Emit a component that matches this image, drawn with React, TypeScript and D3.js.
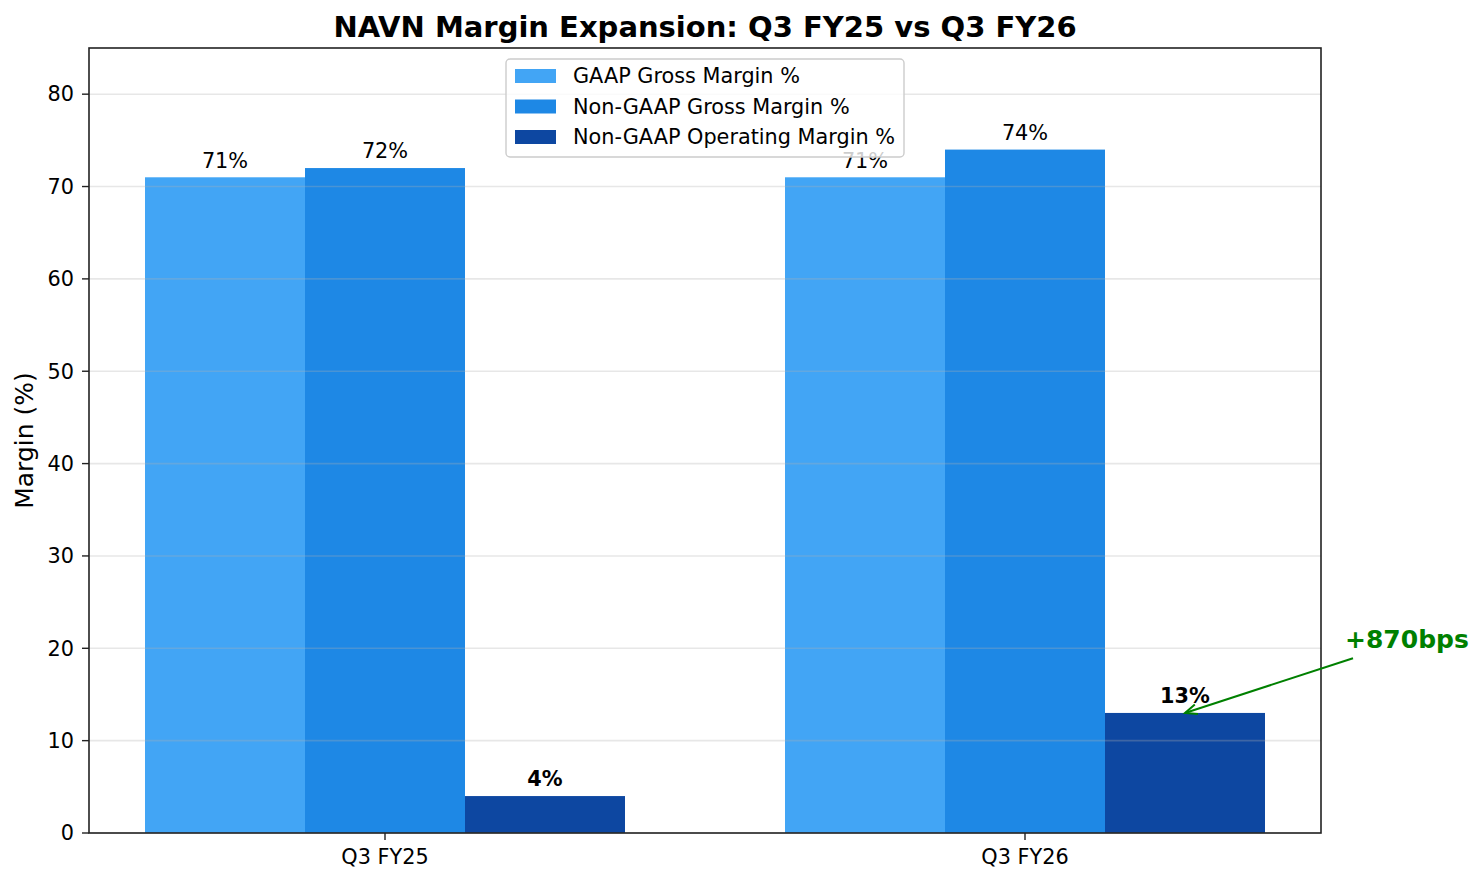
import { useMemo } from 'react';
import * as d3 from 'd3';

const quarters = ['Q3 FY25', 'Q3 FY26'];
const seriesNames = ['GAAP Gross Margin %', 'Non-GAAP Gross Margin %', 'Non-GAAP Operating Margin %'];
const seriesColors = ['#42A5F5', '#1E88E5', '#0D47A1'];
const gaapGross = [71, 71];
const nonGaapGross = [72, 74];
const nonGaapOperating = [4, 13];
const labelBold = [false, false, true];
const yTicks = [0, 10, 20, 30, 40, 50, 60, 70, 80];

const W = 1483;
const H = 883;
const FONT = '"DejaVu Sans", sans-serif';

export default function App() {
  const series = [gaapGross, nonGaapGross, nonGaapOperating];
  const margin = { top: 48, right: 162, bottom: 50, left: 89 };
  const innerWidth = W - margin.left - margin.right;
  const innerHeight = H - margin.top - margin.bottom;
  const barW = 0.25;

  const x = useMemo(() => d3.scaleLinear().domain([-0.4625, 1.4625]).range([0, innerWidth]), [innerWidth]);
  const y = useMemo(() => d3.scaleLinear().domain([0, 85]).range([innerHeight, 0]), [innerHeight]);

  // annotation
  const tip = { x: x(1 + barW), y: y(nonGaapOperating[1]) };
  const textPos = { x: x(1.5), y: y(20) };
  const start = { x: textPos.x + 8, y: textPos.y + 10 };
  const ang = Math.atan2(start.y - tip.y, start.x - tip.x);
  const head = 13;
  const spread = 0.4;
  const h1 = { x: tip.x + head * Math.cos(ang + spread), y: tip.y + head * Math.sin(ang + spread) };
  const h2 = { x: tip.x + head * Math.cos(ang - spread), y: tip.y + head * Math.sin(ang - spread) };

  const legend = { x: 506 - margin.left, y: 59 - margin.top, w: 398, h: 98 };

  return (
    <div style={{ position: 'absolute', left: 0, top: 0 }}>
      <svg width={W} height={H} style={{ display: 'block', background: '#fff' }} fontFamily={FONT}>
        <text x={margin.left + innerWidth / 2} y={37} textAnchor="middle" fontSize={29} fontWeight="bold" fill="#000">
          NAVN Margin Expansion: Q3 FY25 vs Q3 FY26
        </text>
        <text
          transform={`translate(33,${margin.top + innerHeight / 2}) rotate(-90)`}
          textAnchor="middle"
          fontSize={25}
          fill="#000"
        >
          Margin (%)
        </text>
        <g transform={`translate(${margin.left},${margin.top})`}>
          {series.map((vals, si) =>
            vals.map((v, qi) => {
              const cx = x(qi + (si - 1) * barW);
              const x0 = x(qi + (si - 1) * barW - barW / 2);
              const x1 = x(qi + (si - 1) * barW + barW / 2);
              return (
                <g key={`${si}-${qi}`}>
                  <rect x={x0} y={y(v)} width={x1 - x0} height={innerHeight - y(v)} fill={seriesColors[si]} />
                  <text
                    x={cx}
                    y={y(v + 0.5) - 5}
                    textAnchor="middle"
                    fontSize={20.8}
                    fontWeight={labelBold[si] ? 'bold' : 'normal'}
                    fill="#000"
                  >
                    {`${v}%`}
                  </text>
                </g>
              );
            })
          )}
          {/* grid */}
          {yTicks.map((t) => (
            <line key={t} x1={0} x2={innerWidth} y1={y(t)} y2={y(t)} stroke="#b0b0b0" strokeOpacity={0.3} strokeWidth={1.6} />
          ))}
          {/* axes frame */}
          <rect x={0} y={0} width={innerWidth} height={innerHeight} fill="none" stroke="#222" strokeWidth={1.6} />
          {yTicks.map((t) => (
            <g key={`yt${t}`} transform={`translate(0,${y(t)})`}>
              <line x1={-7} x2={0} stroke="#222" strokeWidth={1.4} />
              <text x={-15} dy="0.35em" textAnchor="end" fontSize={20.8} fill="#000">
                {t}
              </text>
            </g>
          ))}
          {quarters.map((q, qi) => (
            <g key={q} transform={`translate(${x(qi)},${innerHeight})`}>
              <line y1={0} y2={7} stroke="#222" strokeWidth={1.4} />
              <text y={31} textAnchor="middle" fontSize={20.8} fill="#000">
                {q}
              </text>
            </g>
          ))}
          {/* annotation */}
          <path d={`M${start.x},${start.y}L${tip.x},${tip.y}`} stroke="#008000" strokeWidth={2} fill="none" />
          <path d={`M${h1.x},${h1.y}L${tip.x},${tip.y}L${h2.x},${h2.y}`} stroke="#008000" strokeWidth={2} fill="none" />
          <text x={textPos.x} y={textPos.y} fontSize={25} fontWeight="bold" fill="#008000">
            +870bps
          </text>
          {/* legend */}
          <g transform={`translate(${legend.x},${legend.y})`}>
            <rect width={legend.w} height={legend.h} rx={4} fill="#fff" fillOpacity={0.8} stroke="#ccc" strokeWidth={1.4} />
            {seriesNames.map((n, i) => (
              <g key={n} transform={`translate(0,${17 + i * 30.5})`}>
                <rect x={9} y={-7} width={41} height={14} fill={seriesColors[i]} />
                <text x={67} dy="0.35em" fontSize={20.8} fill="#000">
                  {n}
                </text>
              </g>
            ))}
          </g>
        </g>
      </svg>
    </div>
  );
}
